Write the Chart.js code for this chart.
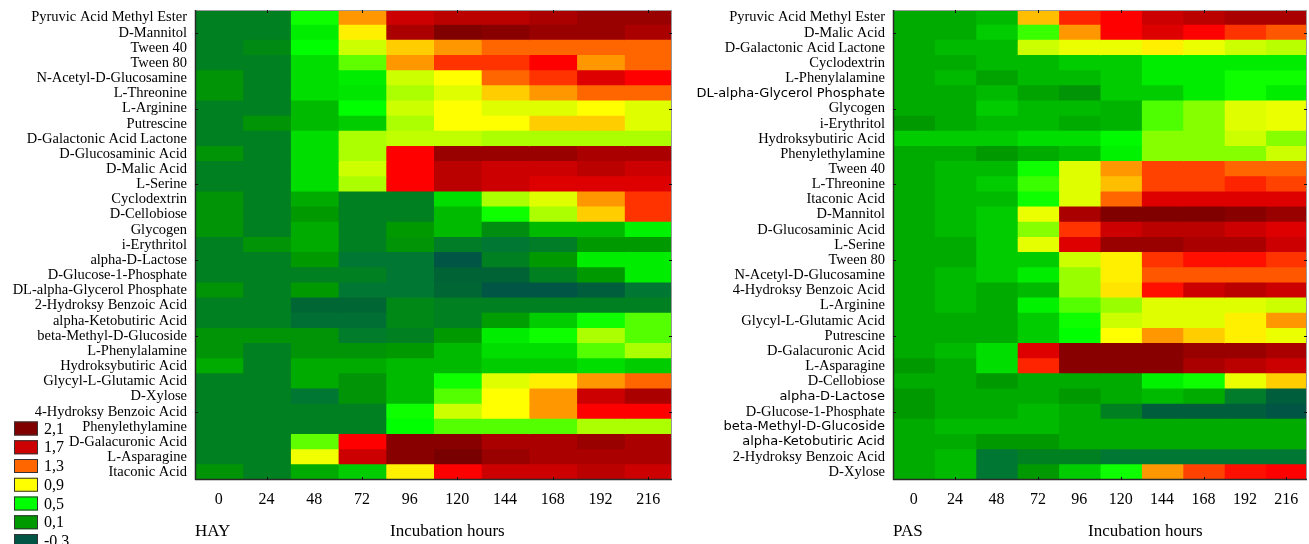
<!DOCTYPE html>
<html>
<head>
<meta charset="utf-8">
<script src="https://cdn.jsdelivr.net/npm/chart.js@4/dist/chart.umd.min.js"></script>
<style>
  html, body { margin: 0; padding: 0; background: #fff; }
  #wrap { position: relative; width: 1309px; height: 544px; overflow: hidden; }
  canvas { position: absolute; top: 0; }
  #hay { left: 0; }
  #pas { left: 690px; }
</style>
</head>
<body>
<div id="wrap">
  <canvas id="hay" width="690" height="544"></canvas>
  <canvas id="pas" width="619" height="544"></canvas>
</div>
<script>
// Incubation hours (columns)
const hours = [0, 24, 48, 72, 96, 120, 144, 168, 192, 216];

// HAY substrates (rows, top to bottom)
const hayLabels = [
  'Pyruvic Acid Methyl Ester', 'D-Mannitol', 'Tween 40', 'Tween 80',
  'N-Acetyl-D-Glucosamine', 'L-Threonine', 'L-Arginine', 'Putrescine',
  'D-Galactonic Acid Lactone', 'D-Glucosaminic Acid', 'D-Malic Acid', 'L-Serine',
  'Cyclodextrin', 'D-Cellobiose', 'Glycogen', 'i-Erythritol', 'alpha-D-Lactose',
  'D-Glucose-1-Phosphate', 'DL-alpha-Glycerol Phosphate', '2-Hydroksy Benzoic Acid',
  'alpha-Ketobutiric Acid', 'beta-Methyl-D-Glucoside', 'L-Phenylalamine',
  'Hydroksybutiric Acid', 'Glycyl-L-Glutamic Acid', 'D-Xylose',
  '4-Hydroksy Benzoic Acid', 'Phenylethylamine', 'D-Galacuronic Acid',
  'L-Asparagine', 'Itaconic Acid'
];

// HAY absorbance, one row per substrate, one value per hour
const hayValues = [
  [0.00, 0.00, 0.52, 1.17, 1.70, 1.79, 1.79, 1.88, 1.97, 1.97],
  [0.00, 0.00, 0.43, 0.94, 1.88, 2.10, 2.06, 1.97, 1.97, 1.88],
  [0.00, 0.04, 0.50, 0.82, 1.03, 1.17, 1.30, 1.30, 1.30, 1.30],
  [0.00, 0.00, 0.37, 0.65, 1.17, 1.40, 1.40, 1.50, 1.17, 1.30],
  [0.08, 0.00, 0.37, 0.43, 0.82, 0.90, 1.30, 1.40, 1.63, 1.50],
  [0.08, 0.00, 0.37, 0.40, 0.77, 0.85, 1.03, 1.17, 1.30, 1.30],
  [0.00, 0.00, 0.23, 0.50, 0.82, 0.90, 0.85, 0.85, 0.90, 0.85],
  [0.00, 0.08, 0.23, 0.30, 0.77, 0.90, 0.90, 1.03, 1.03, 0.85],
  [0.00, 0.00, 0.37, 0.77, 0.80, 0.80, 0.77, 0.77, 0.77, 0.77],
  [0.08, 0.00, 0.37, 0.77, 1.50, 1.97, 1.97, 1.97, 1.88, 1.88],
  [0.00, 0.00, 0.37, 0.82, 1.50, 1.79, 1.70, 1.70, 1.79, 1.70],
  [0.00, 0.00, 0.37, 0.77, 1.50, 1.79, 1.70, 1.63, 1.63, 1.63],
  [0.08, 0.00, 0.17, 0.00, 0.00, 0.37, 0.77, 0.85, 1.17, 1.40],
  [0.08, 0.00, 0.10, 0.00, 0.00, 0.23, 0.52, 0.77, 1.03, 1.40],
  [0.08, 0.00, 0.17, 0.00, 0.10, 0.23, 0.05, 0.23, 0.23, 0.45],
  [0.00, 0.08, 0.17, 0.00, 0.08, -0.03, -0.10, -0.03, 0.10, 0.10],
  [0.00, 0.00, 0.10, -0.10, -0.10, -0.30, 0.00, 0.10, 0.43, 0.43],
  [0.00, 0.00, 0.00, 0.00, -0.10, -0.22, -0.22, 0.00, 0.10, 0.43],
  [0.08, 0.00, 0.10, -0.10, -0.10, -0.20, -0.30, -0.30, -0.25, -0.10],
  [0.00, 0.00, -0.20, -0.20, 0.03, 0.00, 0.00, 0.00, 0.00, 0.00],
  [0.00, 0.00, -0.15, -0.15, 0.03, 0.00, 0.12, 0.30, 0.52, 0.63],
  [0.08, 0.08, 0.08, -0.05, 0.00, 0.10, 0.43, 0.52, 0.77, 0.63],
  [0.08, 0.00, 0.08, 0.08, 0.10, 0.23, 0.37, 0.37, 0.63, 0.77],
  [0.17, 0.00, 0.17, 0.17, 0.23, 0.23, 0.30, 0.30, 0.37, 0.30],
  [0.00, 0.00, 0.17, 0.08, 0.23, 0.52, 0.85, 0.94, 1.17, 1.30],
  [0.00, 0.00, -0.10, 0.08, 0.23, 0.63, 0.90, 1.17, 1.70, 1.88],
  [0.00, 0.00, 0.00, 0.00, 0.52, 0.82, 0.90, 1.17, 1.50, 1.50],
  [0.00, 0.00, 0.00, 0.00, 0.50, 0.63, 0.63, 0.63, 0.77, 0.77],
  [0.00, 0.00, 0.65, 1.50, 2.06, 2.06, 1.88, 1.88, 1.97, 1.88],
  [0.00, 0.00, 0.88, 1.70, 2.06, 2.15, 1.97, 1.88, 1.88, 1.88],
  [0.08, 0.00, 0.17, 0.30, 0.94, 1.50, 1.70, 1.70, 1.79, 1.70]
];

// PAS substrates (rows, top to bottom)
const pasLabels = [
  'Pyruvic Acid Methyl Ester', 'D-Malic Acid', 'D-Galactonic Acid Lactone',
  'Cyclodextrin', 'L-Phenylalamine', 'DL-alpha-Glycerol Phosphate', 'Glycogen',
  'i-Erythritol', 'Hydroksybutiric Acid', 'Phenylethylamine', 'Tween 40',
  'L-Threonine', 'Itaconic Acid', 'D-Mannitol', 'D-Glucosaminic Acid', 'L-Serine',
  'Tween 80', 'N-Acetyl-D-Glucosamine', '4-Hydroksy Benzoic Acid', 'L-Arginine',
  'Glycyl-L-Glutamic Acid', 'Putrescine', 'D-Galacuronic Acid', 'L-Asparagine',
  'D-Cellobiose', 'alpha-D-Lactose', 'D-Glucose-1-Phosphate',
  'beta-Methyl-D-Glucoside', 'alpha-Ketobutiric Acid', '2-Hydroksy Benzoic Acid',
  'D-Xylose'
];

// PAS absorbance, one row per substrate, one value per hour
const pasValues = [
  [0.17, 0.17, 0.23, 1.07, 1.43, 1.50, 1.70, 1.79, 1.88, 1.88],
  [0.17, 0.17, 0.30, 0.59, 1.17, 1.50, 1.63, 1.50, 1.40, 1.33],
  [0.17, 0.23, 0.23, 0.82, 0.87, 0.87, 0.94, 0.87, 0.82, 0.79],
  [0.17, 0.17, 0.23, 0.23, 0.30, 0.30, 0.43, 0.43, 0.43, 0.43],
  [0.17, 0.23, 0.14, 0.23, 0.23, 0.30, 0.43, 0.43, 0.52, 0.52],
  [0.17, 0.17, 0.23, 0.14, 0.08, 0.30, 0.30, 0.43, 0.52, 0.43],
  [0.17, 0.17, 0.30, 0.23, 0.23, 0.20, 0.62, 0.71, 0.85, 0.87],
  [0.10, 0.17, 0.23, 0.23, 0.17, 0.20, 0.62, 0.71, 0.85, 0.87],
  [0.30, 0.30, 0.30, 0.37, 0.37, 0.48, 0.71, 0.71, 0.82, 0.71],
  [0.17, 0.17, 0.10, 0.17, 0.23, 0.45, 0.71, 0.71, 0.71, 0.82],
  [0.17, 0.23, 0.23, 0.52, 0.85, 1.17, 1.37, 1.37, 1.30, 1.30],
  [0.17, 0.23, 0.30, 0.59, 0.85, 1.07, 1.37, 1.37, 1.43, 1.37],
  [0.17, 0.23, 0.23, 0.52, 0.85, 1.30, 1.63, 1.63, 1.63, 1.63],
  [0.17, 0.23, 0.30, 0.87, 1.88, 2.10, 2.10, 2.10, 2.06, 1.97],
  [0.17, 0.23, 0.30, 0.71, 1.40, 1.70, 1.79, 1.79, 1.70, 1.63],
  [0.17, 0.17, 0.30, 0.86, 1.63, 1.97, 1.97, 1.88, 1.88, 1.70],
  [0.17, 0.17, 0.30, 0.30, 0.82, 0.94, 1.40, 1.47, 1.47, 1.40],
  [0.17, 0.23, 0.30, 0.43, 0.74, 0.94, 1.33, 1.33, 1.33, 1.33],
  [0.17, 0.23, 0.17, 0.23, 0.74, 0.97, 1.47, 1.70, 1.79, 1.70],
  [0.17, 0.23, 0.17, 0.45, 0.63, 0.74, 0.85, 0.85, 0.85, 0.82],
  [0.17, 0.17, 0.17, 0.30, 0.52, 0.82, 0.85, 0.85, 0.94, 1.17],
  [0.17, 0.17, 0.17, 0.30, 0.50, 0.90, 1.17, 1.03, 0.94, 0.87],
  [0.17, 0.23, 0.37, 1.63, 2.06, 2.06, 2.06, 1.97, 1.97, 1.88],
  [0.10, 0.17, 0.37, 1.43, 2.06, 2.06, 2.06, 1.88, 1.79, 1.70],
  [0.17, 0.17, 0.10, 0.17, 0.17, 0.17, 0.45, 0.52, 0.87, 1.03],
  [0.10, 0.17, 0.17, 0.17, 0.10, 0.17, 0.23, 0.17, -0.05, -0.25],
  [0.10, 0.17, 0.17, 0.23, 0.17, 0.00, -0.25, -0.25, -0.25, -0.30],
  [0.17, 0.23, 0.23, 0.23, 0.17, 0.17, 0.17, 0.17, 0.17, 0.17],
  [0.17, 0.17, 0.10, 0.10, 0.17, 0.17, 0.17, 0.17, 0.17, 0.17],
  [0.17, 0.23, -0.10, 0.00, 0.00, -0.10, -0.10, -0.10, -0.10, -0.10],
  [0.17, 0.23, -0.10, 0.10, 0.30, 0.52, 1.17, 1.37, 1.47, 1.50]
];

// Colour-scale levels shown in the key
const legendLevels = [2.1, 1.7, 1.3, 0.9, 0.5, 0.1, -0.3];
const legendTexts = ['2,1', '1,7', '1,3', '0,9', '0,5', '0,1', '-0,3'];

// Labels set in a sans-serif face on the PAS axis
const sansLabels = ['DL-alpha-Glycerol Phosphate', 'alpha-D-Lactose',
  'beta-Methyl-D-Glucoside', 'alpha-Ketobutiric Acid'];

// green - yellow - red ramp
const colorStops = [
  [-0.3, [0, 85, 68]],
  [-0.2, [0, 102, 51]],
  [-0.1, [0, 119, 51]],
  [0.0, [0, 128, 32]],
  [0.1, [0, 153, 0]],
  [0.3, [0, 204, 0]],
  [0.5, [0, 255, 0]],
  [0.9, [255, 255, 0]],
  [1.3, [255, 102, 0]],
  [1.5, [255, 0, 0]],
  [1.7, [204, 0, 0]],
  [2.1, [128, 0, 0]],
  [2.3, [100, 0, 0]]
];

function heatColor(v) {
  if (v <= colorStops[0][0]) return 'rgb(' + colorStops[0][1].join(',') + ')';
  for (let i = 1; i < colorStops.length; i++) {
    const [v1, c1] = colorStops[i];
    if (v <= v1) {
      const [v0, c0] = colorStops[i - 1];
      const t = (v - v0) / (v1 - v0);
      const c = c0.map((a, k) => Math.round(a + (c1[k] - a) * t));
      return 'rgb(' + c.join(',') + ')';
    }
  }
  return 'rgb(' + colorStops[colorStops.length - 1][1].join(',') + ')';
}

const SERIF = '"Liberation Serif", "Times New Roman", serif';
const SANS = '"DejaVu Sans", Verdana, sans-serif';

// plot frame and the short inward tick marks
const framePlugin = {
  id: 'frame',
  afterDatasetsDraw(chart) {
    const { ctx, chartArea: a, scales: { x, y } } = chart;
    ctx.save();
    ctx.lineWidth = 1;
    ctx.strokeStyle = '#9a9a9a';
    ctx.beginPath();
    ctx.moveTo(a.left, a.top + 0.5); ctx.lineTo(a.right, a.top + 0.5);
    ctx.moveTo(a.right - 0.5, a.top); ctx.lineTo(a.right - 0.5, a.bottom);
    ctx.stroke();
    ctx.strokeStyle = '#2a2a2a';
    ctx.lineWidth = 1.5;
    ctx.beginPath();
    ctx.moveTo(a.left + 0.5, a.top); ctx.lineTo(a.left + 0.5, a.bottom);
    ctx.moveTo(a.left, a.bottom - 0.5); ctx.lineTo(a.right, a.bottom - 0.5);
    ctx.stroke();
    ctx.strokeStyle = '#111';
    ctx.lineWidth = 1;
    ctx.beginPath();
    for (let i = 1; i < hours.length; i += 2) {
      const px = Math.round(x.getPixelForValue(i + 0.5)) + 0.5;
      ctx.moveTo(px, a.top); ctx.lineTo(px, a.top + 3);
      ctx.moveTo(px, a.bottom); ctx.lineTo(px, a.bottom - 3);
    }
    const n = chart.data.labels.length;
    for (let r = 1; r < n; r += 5) {
      const py = Math.round(y.getPixelForValue(r)) + 0.5;
      ctx.moveTo(a.left, py); ctx.lineTo(a.left + 3, py);
      ctx.moveTo(a.right, py); ctx.lineTo(a.right - 3, py);
    }
    ctx.stroke();
    ctx.restore();
  }
};

// panel name and axis caption under the hour labels
const captionPlugin = {
  id: 'caption',
  afterDraw(chart, args, opts) {
    const { ctx, chartArea: a } = chart;
    ctx.save();
    ctx.fillStyle = '#000';
    ctx.font = '17px ' + SERIF;
    ctx.textBaseline = 'alphabetic';
    ctx.textAlign = 'left';
    ctx.fillText(opts.name, a.left, 536);
    ctx.fillText('Incubation hours', a.left + 195, 536);
    ctx.restore();
  }
};

// colour key drawn in the lower-left corner
const keyPlugin = {
  id: 'key',
  afterDraw(chart, args, opts) {
    if (!opts.show) return;
    const { ctx } = chart;
    ctx.save();
    legendLevels.forEach((lv, i) => {
      const y0 = 421.5 + i * 18.75;
      ctx.fillStyle = heatColor(lv);
      ctx.fillRect(14, y0, 24, 14);
      ctx.strokeStyle = '#333';
      ctx.lineWidth = 1;
      ctx.strokeRect(14.5, y0 + 0.5, 23, 13);
      ctx.fillStyle = '#000';
      ctx.font = '16px ' + SERIF;
      ctx.textBaseline = 'middle';
      ctx.textAlign = 'left';
      ctx.fillText(legendTexts[i], 44, y0 + 8);
    });
    ctx.restore();
  }
};

function buildPanel(canvasId, name, labels, values, axisWidth, rightPad, showKey) {
  const datasets = hours.map((h, c) => ({
    label: String(h),
    data: labels.map(() => 1),
    backgroundColor: labels.map((_, r) => heatColor(values[r][c])),
    borderWidth: 0,
    barPercentage: 1,
    categoryPercentage: 1,
    inflateAmount: 0.5
  }));
  return new Chart(document.getElementById(canvasId), {
    type: 'bar',
    data: { labels, datasets },
    plugins: [framePlugin, captionPlugin, keyPlugin],
    options: {
      indexAxis: 'y',
      responsive: false,
      animation: false,
      devicePixelRatio: 1,
      layout: { padding: { left: 0, right: rightPad, top: 10, bottom: 0 } },
      plugins: {
        legend: { display: false },
        tooltip: { enabled: false },
        caption: { name },
        key: { show: showKey }
      },
      scales: {
        x: {
          type: 'linear',
          stacked: true,
          min: 0,
          max: hours.length,
          grid: { display: false, drawTicks: false },
          border: { display: false },
          afterBuildTicks: (s) => { s.ticks = hours.map((h, i) => ({ value: i + 0.5 })); },
          afterFit: (s) => {
            s.height = 64;
            s.paddingLeft = 0; s.paddingRight = 0;
          },
          ticks: {
            autoSkip: false,
            maxRotation: 0,
            padding: 10,
            color: '#000',
            font: { family: SERIF, size: 16 },
            callback: (v, i) => String(hours[i])
          }
        },
        y: {
          type: 'category',
          stacked: true,
          grid: { display: false, drawTicks: false },
          border: { display: false },
          afterFit: (s) => {
            s.width = axisWidth;
            s.paddingTop = 0; s.paddingBottom = 0;
          },
          ticks: {
            autoSkip: false,
            padding: 8,
            color: '#000',
            font: (ctx) => sansLabels.includes(labels[ctx.index]) && canvasId === 'pas'
              ? { family: SANS, size: 13 }
              : { family: SERIF, size: 14.5 }
          }
        }
      }
    }
  });
}

buildPanel('hay', 'HAY', hayLabels, hayValues, 195, 18, true);
buildPanel('pas', 'PAS', pasLabels, pasValues, 203, 2, false);
</script>
</body>
</html>
